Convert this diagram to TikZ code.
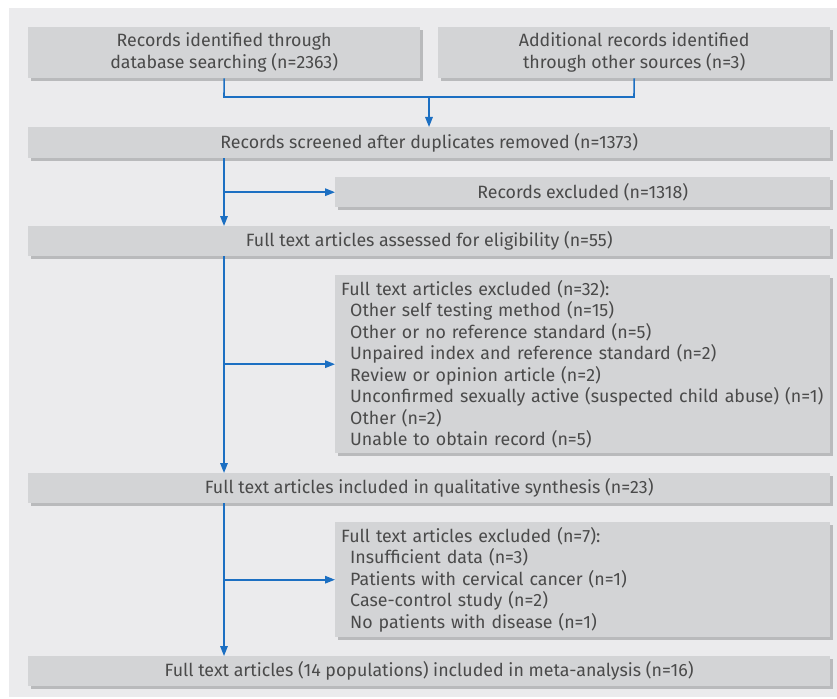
\documentclass[tikz,border=0pt]{standalone}
\usepackage{fontspec}
\setmainfont{Fira Sans}
\usetikzlibrary{arrows.meta,shadows}
\definecolor{panel}{HTML}{EBEBED}
\definecolor{boxfill}{HTML}{D3D4D6}
\definecolor{boxshadow}{HTML}{B9BABC}
\definecolor{flowblue}{HTML}{1C6FC2}
\definecolor{txt}{HTML}{4A4A4A}
\tikzset{
  box/.style={fill=boxfill, draw=none, anchor=north west, inner sep=0pt,
    text=txt, font=\fontsize{17.8}{21.5}\selectfont,
    drop shadow={shadow xshift=3pt, shadow yshift=-3pt, fill=boxshadow, opacity=1}},
  flow/.style={draw=flowblue, line width=1.6pt},
  flowarrow/.style={flow, -{Triangle[length=10pt,width=7.5pt]}},
}
\newcommand{\sub}{\hspace*{9pt}}
\begin{document}
\begin{tikzpicture}[x=1pt,y=-1pt]
\useasboundingbox (0,0) rectangle (837,698);
\fill[panel] (9,8) rectangle (837,697);
\node[box, minimum width=392pt, minimum height=51pt, align=center] (b1) at (28,27)
  {Records identified through\\database searching (n=2363)};
\node[box, minimum width=392pt, minimum height=51pt, align=center] (b2) at (438,27)
  {Additional records identified\\through other sources (n=3)};
\node[box, minimum width=802pt, minimum height=31pt] (b3) at (28,127)
  {Records screened after duplicates removed (n=1373)};
\node[box, minimum width=495pt, minimum height=30pt] (b4) at (335,177)
  {Records excluded (n=1318)};
\node[box, minimum width=802pt, minimum height=30pt] (b5) at (28,226)
  {Full text articles assessed for eligibility (n=55)};
\node[box, minimum width=495pt, minimum height=178pt, text width=483pt, align=left, inner xsep=6pt] (b6) at (335,275)
  {Full text articles excluded (n=32):\\
   \sub Other self testing method (n=15)\\
   \sub Other or no reference standard (n=5)\\
   \sub Unpaired index and reference standard (n=2)\\
   \sub Review or opinion article (n=2)\\
   \sub Unconfirmed sexually active (suspected child abuse) (n=1)\\
   \sub Other (n=2)\\
   \sub Unable to obtain record (n=5)};
\node[box, minimum width=802pt, minimum height=30pt] (b7) at (28,473)
  {Full text articles included in qualitative synthesis (n=23)};
\node[box, minimum width=495pt, minimum height=115pt, text width=483pt, align=left, inner xsep=6pt] (b8) at (335,522)
  {Full text articles excluded (n=7):\\
   \sub Insufficient data (n=3)\\
   \sub Patients with cervical cancer (n=1)\\
   \sub Case-control study (n=2)\\
   \sub No patients with disease (n=1)};
\node[box, minimum width=802pt, minimum height=30pt] (b9) at (28,656)
  {Full text articles (14 populations) included in meta-analysis (n=16)};
% top merge
\coordinate (j1) at (224,97);
\coordinate (j2) at (634,97);
\coordinate (j3) at (429,97);
\draw[flow] (b1.south) -- (j1) -- (j2) -- (b2.south);
\draw[flowarrow] (j3) -- (j3 |- b3.north);
% main column
\coordinate (c3) at (224,0);
\draw[flowarrow] (c3 |- b3.south) -- (c3 |- b5.north);
\draw[flowarrow] (c3 |- b4.west) -- (b4.west);
\draw[flowarrow] (c3 |- b5.south) -- (c3 |- b7.north);
\draw[flowarrow] (c3 |- b6.west) -- (b6.west);
\draw[flowarrow] (c3 |- b7.south) -- (c3 |- b9.north);
\draw[flowarrow] (c3 |- b8.west) -- (b8.west);
\end{tikzpicture}
\end{document}
